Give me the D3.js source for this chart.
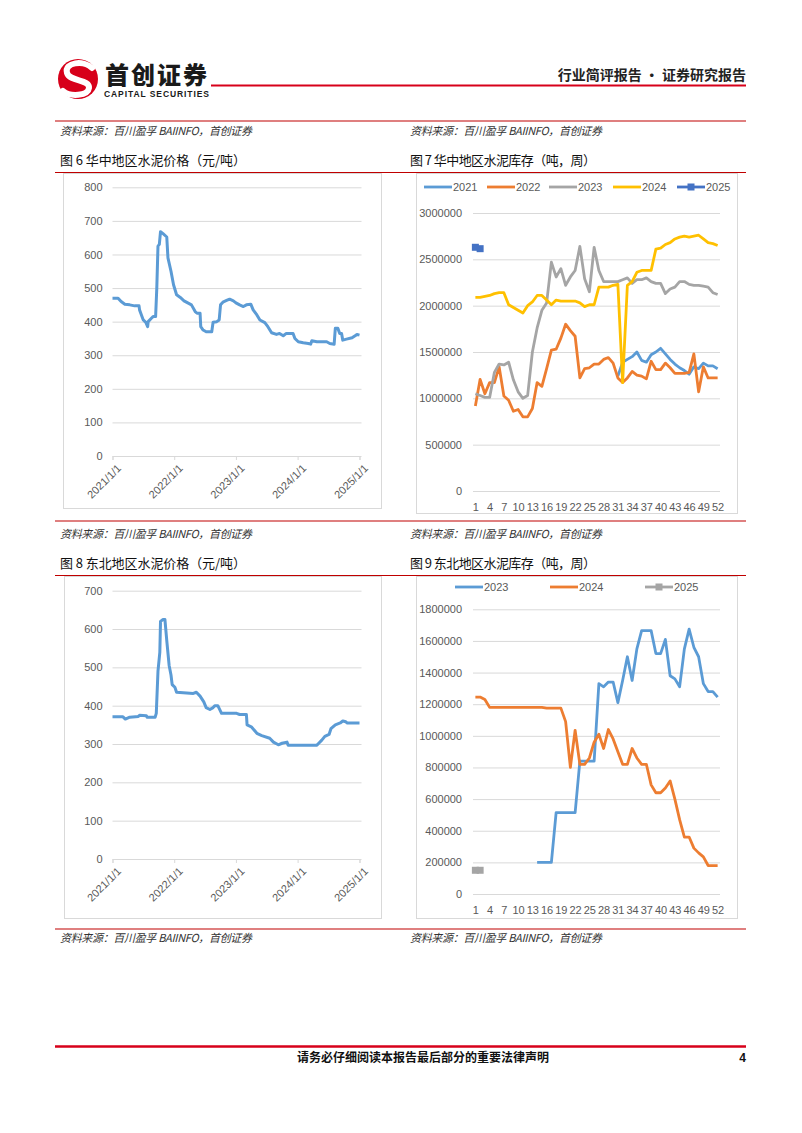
<!DOCTYPE html>
<html><head><meta charset="utf-8">
<script src="https://cdn.jsdelivr.net/npm/d3@7"></script>
<style>body{margin:0;background:#fff}svg{display:block}</style>
</head><body>
<script>
// ---------- DATA ----------
const yearTicks = ["2021/1/1","2022/1/1","2023/1/1","2024/1/1","2025/1/1"];
const hzDates = ["2021-01-01","2021-02-03","2021-02-21","2021-03-15","2021-04-13","2021-05-12","2021-06-07","2021-06-10","2021-06-21","2021-07-02","2021-07-17","2021-07-28","2021-07-31","2021-08-19","2021-08-29","2021-09-13","2021-09-20","2021-09-27","2021-10-05","2021-10-12","2021-10-27","2021-11-18","2021-11-25","2021-12-13","2021-12-28","2022-01-15","2022-02-06","2022-02-28","2022-03-25","2022-04-13","2022-05-05","2022-05-16","2022-06-03","2022-06-07","2022-06-21","2022-07-09","2022-08-11","2022-08-19","2022-09-10","2022-09-24","2022-10-02","2022-10-16","2022-11-07","2022-11-25","2022-12-17","2023-01-01","2023-01-23","2023-02-14","2023-03-04","2023-03-30","2023-04-13","2023-05-05","2023-05-23","2023-06-21","2023-07-09","2023-07-31","2023-08-29","2023-09-16","2023-10-08","2023-10-26","2023-12-05","2023-12-16","2024-01-05","2024-02-03","2024-03-04","2024-03-18","2024-03-25","2024-04-24","2024-06-21","2024-07-09","2024-08-04","2024-08-11","2024-08-26","2024-09-06","2024-09-17","2024-09-24","2024-10-16","2024-11-18","2024-12-06","2024-12-17","2025-01-01"];
const hzPrices = [470,470,460,452,450,447,447,435,420,405,398,385,400,410,415,415,500,625,630,668,662,652,590,550,510,480,472,462,455,450,430,425,425,385,375,370,370,398,400,405,450,458,463,467,462,456,450,445,450,452,435,420,405,397,385,367,362,365,358,365,365,350,340,337,335,333,343,340,340,335,333,380,380,365,365,345,348,352,358,362,360];
const dbDates = ["2021-01-01","2021-03-04","2021-03-18","2021-04-13","2021-06-03","2021-06-10","2021-07-20","2021-07-24","2021-09-10","2021-09-17","2021-09-27","2021-10-08","2021-10-12","2021-10-27","2021-11-07","2021-11-18","2021-12-02","2021-12-13","2021-12-20","2022-01-05","2022-01-15","2022-04-24","2022-05-12","2022-06-03","2022-06-25","2022-07-09","2022-07-31","2022-08-19","2022-08-29","2022-09-16","2022-10-08","2023-01-05","2023-01-23","2023-03-04","2023-03-08","2023-04-02","2023-05-05","2023-06-03","2023-07-20","2023-08-11","2023-09-09","2023-10-01","2023-10-30","2023-11-06","2024-04-24","2024-05-05","2024-05-23","2024-06-10","2024-07-05","2024-07-16","2024-08-11","2024-09-09","2024-09-24","2024-10-12","2024-10-19","2025-01-01"];
const dbPrices = [371,371,365,370,372,375,374,370,370,380,490,540,620,625,625,570,505,480,455,448,435,432,435,425,410,395,390,395,400,400,380,380,377,377,350,345,328,322,315,305,298,302,305,297,297,302,310,320,325,340,350,355,360,358,355,355];

const weeks = [1,2,3,4,5,6,7,8,9,10,11,12,13,14,15,16,17,18,19,20,21,22,23,24,25,26,27,28,29,30,31,32,33,34,35,36,37,38,39,40,41,42,43,44,45,46,47,48,49,50,51,52];
const weekTicks = [1,4,7,10,13,16,19,22,25,28,31,34,37,40,43,46,49,52];
const hzInv2021 = [null,null,null,null,null,null,null,null,null,null,null,null,null,null,null,null,null,null,null,null,null,null,null,null,null,null,null,null,null,null,1240000,1390000,1420000,1450000,1500000,1410000,1390000,1470000,1500000,1540000,1480000,1420000,1370000,1330000,1300000,1260000,1340000,1320000,1380000,1350000,1350000,1320000];
const hzInv2022 = [917000,1205000,1050000,1170000,1170000,1340000,1025000,980000,860000,880000,800000,800000,890000,1170000,1130000,1320000,1520000,1530000,1650000,1800000,1730000,1670000,1220000,1320000,1330000,1370000,1370000,1420000,1440000,1380000,1220000,1170000,1220000,1290000,1250000,1240000,1210000,1400000,1310000,1310000,1380000,1330000,1270000,1270000,1270000,1280000,1480000,1070000,1340000,1220000,1220000,1220000];
const hzInv2023 = [1050000,1030000,1010000,1010000,1280000,1370000,1360000,1390000,1200000,1070000,1000000,1030000,1500000,1760000,1950000,2030000,2470000,2310000,2400000,2220000,2310000,2380000,2640000,2290000,2150000,2630000,2380000,2260000,2260000,2260000,2260000,2280000,2300000,2240000,2280000,2280000,2300000,2260000,2240000,2240000,2130000,2180000,2200000,2260000,2260000,2230000,2220000,2220000,2210000,2200000,2140000,2120000];
const hzInv2024 = [2090000,2090000,2100000,2110000,2130000,2140000,2140000,2010000,1980000,1950000,1920000,2000000,2040000,2110000,2110000,2060000,2010000,2060000,2050000,2050000,2050000,2050000,2030000,1990000,2010000,2010000,2200000,2200000,2200000,2220000,2230000,1170000,2220000,2260000,2360000,2380000,2380000,2380000,2610000,2620000,2660000,2680000,2720000,2740000,2750000,2740000,2750000,2760000,2720000,2680000,2670000,2650000];
const hzInv2025 = [2630000,2615000];
const hzInvTicks = [0,500000,1000000,1500000,2000000,2500000,3000000];

const dbInv2023 = [null,null,null,null,null,null,null,null,null,null,null,null,null,200000,200000,200000,200000,515000,515000,515000,515000,515000,840000,840000,840000,840000,1330000,1310000,1340000,1340000,1210000,1350000,1500000,1350000,1550000,1665000,1665000,1665000,1520000,1520000,1610000,1380000,1360000,1310000,1550000,1675000,1560000,1500000,1330000,1280000,1280000,1245000];
const dbInv2024 = [1245000,1245000,1230000,1180000,1180000,1180000,1180000,1180000,1180000,1180000,1180000,1180000,1180000,1180000,1180000,1175000,1175000,1175000,1175000,1090000,800000,1035000,820000,820000,860000,960000,1010000,920000,1040000,980000,900000,820000,820000,920000,860000,820000,820000,690000,640000,640000,670000,715000,600000,470000,360000,360000,290000,260000,235000,180000,180000,180000];
const dbInv2025 = [150000,150000];
const dbInvTicks = [0,200000,400000,600000,800000,1000000,1200000,1400000,1600000,1800000];

// ---------- DRAW ----------
const W = 802, H = 1133;
const svg = d3.select("body").append("svg").attr("width", W).attr("height", H);
const CJK = "'Noto Sans CJK SC','Noto Sans',sans-serif";
const NUM = "'Liberation Sans',Arial,sans-serif";
const RED = "#c00000";
const AX = "#595959", GRID = "#d9d9d9";

// Header logo
const logo = svg.append("g");
logo.append("circle").attr("cx", 78).attr("cy", 79).attr("r", 20).attr("fill", "#d7001a");
logo.append("path").attr("d", "M92 68 C84 60 64 62 67 73 C70 82 90 79 89 88 C88 96 70 97 63 91")
  .attr("fill", "none").attr("stroke", "#fff").attr("stroke-width", 6).attr("stroke-linecap", "round");
svg.append("text").attr("x", 105).attr("y", 84).attr("font-family", CJK).attr("font-weight", 900)
  .attr("font-size", 24).attr("textLength", 102).attr("fill", "#1a1a1a").text("首创证券");
svg.append("text").attr("x", 104).attr("y", 97).attr("font-family", NUM).attr("font-weight", 700)
  .attr("font-size", 8.5).attr("textLength", 105).attr("fill", "#1a1a1a").text("CAPITAL SECURITIES");
svg.append("line").attr("x1", 211).attr("x2", 746).attr("y1", 85.5).attr("y2", 85.5).attr("stroke", "#d7001a").attr("stroke-width", 2);
svg.append("text").attr("x", 746).attr("y", 80).attr("text-anchor", "end").attr("font-family", CJK)
  .attr("font-weight", 700).attr("font-size", 14).attr("fill", "#222").text("行业简评报告 · 证券研究报告");

function hline(y, w, c) {
  svg.append("line").attr("x1", 55).attr("x2", 746).attr("y1", y).attr("y2", y).attr("stroke", c || RED).attr("stroke-width", w || 1.2);
}
function srcText(x, y) {
  svg.append("text").attr("x", x).attr("y", y).attr("font-family", CJK).attr("font-style", "italic")
    .attr("font-size", 11).attr("textLength", 192).attr("fill", "#333").text("资料来源：百川盈孚 BAIINFO，首创证券");
}
function title(x, y, t) {
  svg.append("text").attr("x", x).attr("y", y).attr("font-family", CJK).attr("font-size", 13)
    .attr("textLength", 186).attr("fill", "#111").text(t);
}

hline(121); srcText(60, 135); srcText(410, 135);
title(60, 165, "图 6 华中地区水泥价格（元/吨）");
title(410, 165, "图 7 华中地区水泥库存（吨，周）");
hline(172.5);
hline(521); srcText(60, 538); srcText(410, 538);
title(60, 568, "图 8 东北地区水泥价格（元/吨）");
title(410, 568, "图 9 东北地区水泥库存（吨，周）");
hline(575.5);
hline(929); srcText(60, 942); srcText(410, 942);

// Footer
svg.append("line").attr("x1", 55).attr("x2", 746).attr("y1", 1046.5).attr("y2", 1046.5).attr("stroke", "#d7001a").attr("stroke-width", 2.5);
svg.append("text").attr("x", 423).attr("y", 1062).attr("text-anchor", "middle").attr("font-family", CJK)
  .attr("font-weight", 700).attr("font-size", 12).attr("fill", "#111").text("请务必仔细阅读本报告最后部分的重要法律声明");
svg.append("text").attr("x", 746).attr("y", 1062).attr("text-anchor", "end").attr("font-family", NUM)
  .attr("font-weight", 700).attr("font-size", 12).attr("fill", "#111").text("4");

// Chart boxes
function box(x, y, w, h) {
  svg.append("rect").attr("x", x).attr("y", y).attr("width", w).attr("height", h)
    .attr("fill", "none").attr("stroke", GRID).attr("stroke-width", 1);
}
box(63.5, 173.5, 318, 335);
box(416.5, 173.5, 321, 340);
box(64.5, 576.5, 317, 342);
box(416.5, 576.5, 321, 342);

const parse = d3.timeParse("%Y-%m-%d");
const parseTick = d3.timeParse("%Y/%m/%d");

function priceChart(dates, vals, yMax, yTop, yBottom) {
  const x = d3.scaleTime().domain([parse("2021-01-01"), parse("2025-01-01")]).range([112.5, 359.5]);
  const y = d3.scaleLinear().domain([0, yMax]).range([yBottom, yTop]);
  const g = svg.append("g");
  const ticks = d3.range(0, yMax + 1, 100);
  const ya = g.append("g").attr("transform", "translate(112.5,0)")
    .call(d3.axisLeft(y).tickValues(ticks).tickSize(-249).tickPadding(10).tickFormat(d3.format("d")));
  ya.select(".domain").remove();
  ya.selectAll(".tick line").attr("stroke", GRID);
  ya.selectAll(".tick text").attr("font-family", NUM).attr("font-size", 11).attr("fill", AX);
  const xa = g.append("g").attr("transform", `translate(0,${yBottom})`)
    .call(d3.axisBottom(x).tickValues(yearTicks.map(parseTick)).tickSize(4).tickFormat(d3.timeFormat("%Y/%-m/%-d")));
  xa.select(".domain").attr("stroke", GRID);
  xa.selectAll(".tick line").attr("stroke", GRID);
  xa.selectAll(".tick text").attr("font-family", NUM).attr("font-size", 11).attr("fill", AX)
    .attr("text-anchor", "end").attr("dy", 0).attr("transform", "translate(4,8) rotate(-45)");
  const data = dates.map((d, i) => [parse(d), vals[i]]);
  g.append("path").datum(data).attr("fill", "none").attr("stroke", "#5b9bd5").attr("stroke-width", 3)
    .attr("stroke-linejoin", "round")
    .attr("d", d3.line().x(d => x(d[0])).y(d => y(d[1])));
}
priceChart(hzDates, hzPrices, 800, 187.3, 456);
priceChart(dbDates, dbPrices, 700, 590.7, 859);

function invChart(series, ticks, yMax, yTop, yBottom, legendY, legendItems) {
  const x = d3.scalePoint().domain(weeks).range([473, 720]).padding(0.5);
  const y = d3.scaleLinear().domain([0, yMax]).range([yBottom, yTop]);
  const g = svg.append("g");
  const ya = g.append("g").attr("transform", "translate(473,0)")
    .call(d3.axisLeft(y).tickValues(ticks).tickSize(-247).tickPadding(11).tickFormat(d3.format("d")));
  ya.select(".domain").remove();
  ya.selectAll(".tick line").attr("stroke", GRID);
  ya.selectAll(".tick text").attr("font-family", NUM).attr("font-size", 11).attr("fill", AX);
  const xa = g.append("g").attr("transform", `translate(0,${yBottom})`)
    .call(d3.axisBottom(x).tickValues(weekTicks).tickSize(0).tickPadding(12));
  xa.select(".domain").remove();
  xa.selectAll(".tick text").attr("font-family", NUM).attr("font-size", 11).attr("fill", AX);
  series.forEach(s => {
    const data = s.vals.map((v, i) => [weeks[i], v]);
    g.append("path").datum(data).attr("fill", "none").attr("stroke", s.color).attr("stroke-width", 2.8)
      .attr("stroke-linejoin", "round")
      .attr("d", d3.line().defined(d => d[1] !== null).x(d => x(d[0])).y(d => y(d[1])));
    if (s.marker) {
      g.selectAll(null).data(data).join("rect")
        .attr("x", d => x(d[0]) - 3.5).attr("y", d => y(d[1]) - 3.5).attr("width", 7).attr("height", 7)
        .attr("fill", s.color);
    }
  });
  legendItems.forEach(it => {
    const s = series.find(q => q.name === it.name);
    g.append("line").attr("x1", it.x).attr("x2", it.x + 28).attr("y1", legendY).attr("y2", legendY)
      .attr("stroke", s.color).attr("stroke-width", 2.8);
    if (s.marker) g.append("rect").attr("x", it.x + 10.5).attr("y", legendY - 3.5).attr("width", 7).attr("height", 7).attr("fill", s.color);
    g.append("text").attr("x", it.x + 29).attr("y", legendY + 4).attr("font-family", NUM).attr("font-size", 11)
      .attr("fill", AX).text(s.name);
  });
}

invChart([
  {name: "2021", vals: hzInv2021, color: "#5b9bd5"},
  {name: "2022", vals: hzInv2022, color: "#ed7d31"},
  {name: "2023", vals: hzInv2023, color: "#a5a5a5"},
  {name: "2024", vals: hzInv2024, color: "#ffc000"},
  {name: "2025", vals: hzInv2025, color: "#4472c4", marker: true}
], hzInvTicks, 3000000, 213, 491, 187,
  [{name: "2021", x: 424}, {name: "2022", x: 487}, {name: "2023", x: 549}, {name: "2024", x: 613}, {name: "2025", x: 677}]);

invChart([
  {name: "2023", vals: dbInv2023, color: "#5b9bd5"},
  {name: "2024", vals: dbInv2024, color: "#ed7d31"},
  {name: "2025", vals: dbInv2025, color: "#a5a5a5", marker: true}
], dbInvTicks, 1800000, 609.3, 894, 587,
  [{name: "2023", x: 455}, {name: "2024", x: 550}, {name: "2025", x: 645}]);
</script>
</body></html>
